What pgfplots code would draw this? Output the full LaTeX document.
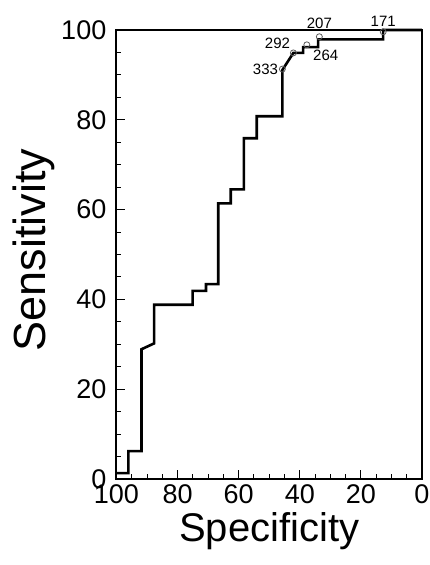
\documentclass[border=0pt]{standalone}
\usepackage{fontspec}
\setmainfont{Liberation Sans}
\usepackage{pgfplots}
\pgfplotsset{compat=1.18}

\begin{document}
\begin{tikzpicture}
\begin{axis}[
  scale only axis,
  width=305.5pt, height=449pt,
  xmin=0, xmax=100, ymin=0, ymax=100,
  x dir=reverse,
  clip=false,
  xtick={0,20,...,100}, ytick={0,20,...,100},
  minor tick num=3,
  tick pos=left, tick align=inside,
  major tick length=9pt, minor tick length=5pt,
  every tick/.style={black, line width=1pt},
  axis line style={line width=2pt},
  /pgf/number format/assume math mode=true,
  ticklabel style={font=\fontsize{27}{30}\selectfont},
  xticklabel style={anchor=north, inner sep=0pt, yshift=-5pt},
  yticklabel style={anchor=east, inner sep=0pt, xshift=-10pt},
  xlabel={Specificity},
  ylabel={Sensitivity},
  xlabel style={font=\fontsize{40}{44}\selectfont, at={(axis description cs:0.5,0)}, anchor=base, yshift=-62.7pt},
  ylabel style={font=\fontsize{45}{48}\selectfont, at={(axis description cs:-0.34,0.51)}, anchor=north, inner sep=0pt},
  annot/.style={only marks, mark=o, mark size=3pt,
    mark options={gray!70!black, line width=0.8pt},
    nodes near coords, point meta=explicit symbolic},
]
\addplot[black, line width=2.6pt] coordinates {
  (100,1.3) (96.1,1.3) (96.1,6.2) (91.8,6.2) (91.8,28.9) (87.7,30.2)
  (87.7,38.8) (75.1,38.8) (75.1,41.9) (70.7,41.9) (70.7,43.4) (66.7,43.4)
  (66.7,61.4) (62.6,61.4) (62.6,64.5) (58.3,64.5) (58.3,75.9) (54.1,75.9)
  (54.1,80.8) (45.7,80.8) (45.7,91.1) (42.1,94.9) (38.9,94.9) (38.9,96.2)
  (34.0,96.2) (34.0,97.9) (12.7,97.9) (12.7,100) (0,100)
};
\addplot[annot, nodes near coords style={text=black, font=\fontsize{15}{16}\selectfont, anchor=east, inner sep=0pt, xshift=-4pt}]
  coordinates {(45.7,91.3) [333]};
\addplot[annot, nodes near coords style={text=black, font=\fontsize{15}{16}\selectfont, anchor=south east, inner sep=0pt, xshift=-3pt, yshift=3.5pt}]
  coordinates {(42.1,94.9) [292]};
\addplot[annot, nodes near coords style={text=black, font=\fontsize{15}{16}\selectfont, anchor=north west, inner sep=0pt, xshift=6pt, yshift=-5pt}]
  coordinates {(37.7,96.7) [264]};
\addplot[annot, nodes near coords style={text=black, font=\fontsize{15}{16}\selectfont, anchor=south, inner sep=0pt, yshift=8pt}]
  coordinates {(33.6,98.5) [207]};
\addplot[annot, nodes near coords style={text=black, font=\fontsize{15}{16}\selectfont, anchor=south, inner sep=0pt, yshift=5pt}]
  coordinates {(12.7,99.6) [171]};
\end{axis}
\pgfresetboundingbox
\path ([shift={(-116.5pt,-86pt)}]current axis.south west) rectangle ([shift={(7pt,30pt)}]current axis.north east);
\end{tikzpicture}
\end{document}
